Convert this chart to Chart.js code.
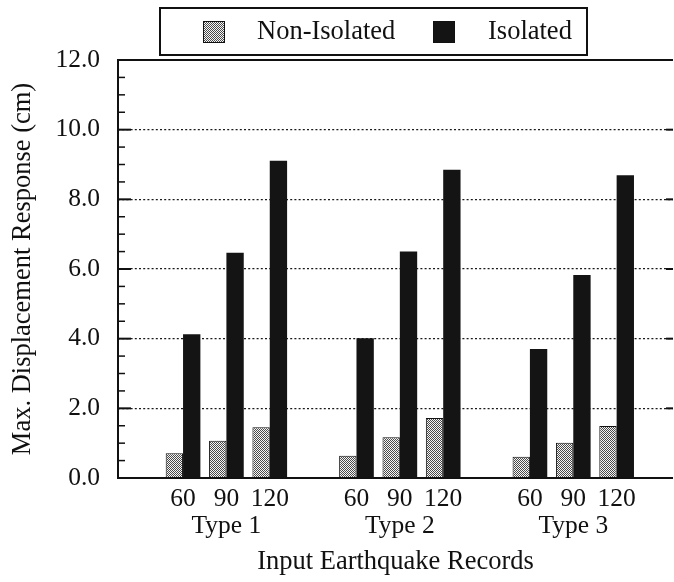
<!DOCTYPE html>
<html>
<head>
<meta charset="utf-8">
<script src="https://cdn.jsdelivr.net/npm/chart.js@4/dist/chart.umd.min.js"></script>
<style>
  html, body { margin: 0; padding: 0; background: #fff; }
  #wrap { width: 674px; height: 582px; }
</style>
</head>
<body>
<div id="wrap"><canvas id="chart" width="674" height="582"></canvas></div>
<script>
// Peak displacement (cm) for three earthquake types, each at 60/90/120 levels
const records = ['60', '90', '120'];
const groups = ['Type 1', 'Type 2', 'Type 3'];
const nonIsolated = [0.71, 1.07, 1.46, 0.64, 1.17, 1.72, 0.61, 1.01, 1.49];
const isolated = [4.13, 6.47, 9.11, 4.01, 6.50, 8.85, 3.70, 5.83, 8.69];
const seriesNames = ['Non-Isolated', 'Isolated'];
const yTicks = [0, 2, 4, 6, 8, 10, 12];

const FONT = "'Liberation Serif', 'Times New Roman', serif";
const INK = '#111';

// slot position of each bar pair: groups are separated by one empty slot
const slotOf = (g, r) => g * (records.length + 1) + r;
const tickSlots = [];
const tickLabels = {};
groups.forEach((grp, g) => records.forEach((rec, r) => {
  const s = slotOf(g, r);
  tickSlots.push(s);
  tickLabels[s] = r === 1 ? [rec, grp] : rec;
}));
const toPoints = vals => vals.map((v, i) =>
  ({ x: slotOf(Math.floor(i / records.length), i % records.length), y: v }));

// fine dotted screen used for the non-isolated bars
function dotPattern() {
  const c = document.createElement('canvas');
  c.width = 2; c.height = 2;
  const g = c.getContext('2d');
  g.fillStyle = '#f6f6f6'; g.fillRect(0, 0, 2, 2);
  g.fillStyle = '#4a4a4a'; g.fillRect(0, 0, 1, 1); g.fillRect(1, 1, 1, 1);
  return g.createPattern(c, 'repeat');
}
const screen = dotPattern();

// axis frame with inward tick marks
const framePlugin = {
  id: 'frame',
  afterDraw(chart) {
    const { ctx, chartArea: a, scales: { y } } = chart;
    ctx.save();
    ctx.strokeStyle = INK;
    ctx.lineCap = 'butt';
    for (let v = 0; v <= 12.001; v += 0.5) {
      const py = y.getPixelForValue(v);
      const major = Math.abs(v % 2) < 1e-6;
      ctx.lineWidth = major ? 2 : 1.5;
      ctx.beginPath();
      ctx.moveTo(a.left, py);
      ctx.lineTo(a.left + (major ? 13 : 7), py);
      ctx.stroke();
      if (major) {
        ctx.beginPath();
        ctx.moveTo(a.right - 7, py);
        ctx.lineTo(a.right, py);
        ctx.stroke();
      }
    }
    ctx.lineWidth = 2;
    ctx.beginPath();
    ctx.moveTo(a.right, a.top);
    ctx.lineTo(a.left, a.top);
    ctx.lineTo(a.left, a.bottom);
    ctx.lineTo(a.right, a.bottom);
    ctx.stroke();
    ctx.restore();
  }
};

// boxed legend across the top
const boxedLegend = {
  id: 'boxedLegend',
  afterDraw(chart) {
    const { ctx } = chart;
    ctx.save();
    ctx.strokeStyle = INK;
    ctx.lineWidth = 2;
    ctx.strokeRect(160, 8, 427, 47);
    const items = [
      { sx: 203, tx: 257 },
      { sx: 433, tx: 488 }
    ];
    ctx.font = "26.5px " + FONT;
    ctx.textBaseline = 'alphabetic';
    ctx.textAlign = 'left';
    chart.data.datasets.forEach((ds, i) => {
      const it = items[i];
      ctx.fillStyle = ds.backgroundColor;
      ctx.fillRect(it.sx, 21, 22, 22);
      ctx.lineWidth = 1;
      ctx.strokeStyle = INK;
      ctx.strokeRect(it.sx + 0.5, 21.5, 21, 21);
      ctx.fillStyle = INK;
      ctx.fillText(ds.label, it.tx, 38.5);
    });
    ctx.restore();
  }
};

new Chart(document.getElementById('chart'), {
  type: 'bar',
  data: {
    datasets: [
      {
        label: seriesNames[0],
        data: toPoints(nonIsolated),
        backgroundColor: screen,
        borderColor: INK,
        borderWidth: 1,
        borderSkipped: 'bottom'
      },
      {
        label: seriesNames[1],
        data: toPoints(isolated),
        backgroundColor: '#141414',
        borderColor: '#141414',
        borderWidth: 0
      }
    ]
  },
  options: {
    responsive: false,
    devicePixelRatio: 1,
    animation: false,
    categoryPercentage: 0.8,
    barPercentage: 1.0,
    layout: { padding: { top: 60, right: 1, left: 0, bottom: 0 } },
    plugins: { legend: { display: false }, tooltip: { enabled: false } },
    scales: {
      x: {
        type: 'linear',
        min: -1.5,
        max: 11.3,
        offset: false,
        grid: { display: false, drawTicks: false },
        border: { display: false },
        afterBuildTicks(scale) {
          scale.ticks = tickSlots.map(v => ({ value: v }));
        },
        afterFit(scale) { scale.height = 104; },
        ticks: {
          autoSkip: false,
          maxRotation: 0,
          padding: 8,
          color: INK,
          font: { family: FONT, size: 25.5, lineHeight: 1.06 },
          callback: v => tickLabels[v] ?? ''
        },
        title: {
          display: true,
          text: 'Input Earthquake Records',
          color: INK,
          font: { family: FONT, size: 26.5 },
          padding: { top: 0, bottom: 4 }
        }
      },
      y: {
        min: 0,
        max: 12,
        afterBuildTicks(scale) {
          scale.ticks = yTicks.map(v => ({ value: v }));
        },
        afterFit(scale) { scale.width = 118; },
        grid: {
          drawTicks: false,
          color: c => (c.tick && c.tick.value > 0 && c.tick.value < 12) ? '#1a1a1a' : 'rgba(0,0,0,0)',
          lineWidth: 1.3
        },
        border: { display: false, dash: [2, 2.2] },
        ticks: {
          padding: 18,
          color: INK,
          font: { family: FONT, size: 25.5 },
          callback: v => Number(v).toFixed(1)
        },
        title: {
          display: true,
          text: 'Max. Displacement Response (cm)',
          color: INK,
          font: { family: FONT, size: 26.5 },
          padding: { top: 7, bottom: 0 }
        }
      }
    }
  },
  plugins: [framePlugin, boxedLegend]
});
</script>
</body>
</html>
